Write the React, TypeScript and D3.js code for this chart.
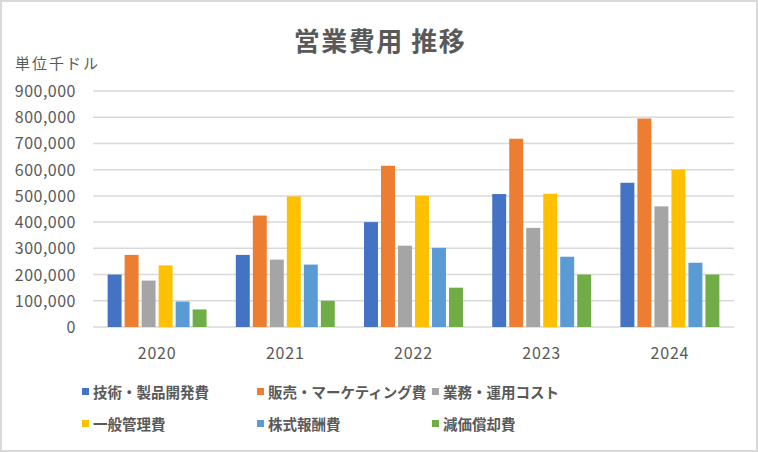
import React from "react";
import * as d3 from "d3";

const years = ["2020", "2021", "2022", "2023", "2024"];
const seriesNames = [
  "技術・製品開発費",
  "販売・マーケティング費",
  "業務・運用コスト",
  "一般管理費",
  "株式報酬費",
  "減価償却費",
];
const seriesColors = ["#4472C4", "#ED7D31", "#A5A5A5", "#FFC000", "#5B9BD5", "#70AD47"];
const techDev = [200000, 275000, 400000, 507000, 550000];
const salesMkt = [275000, 425000, 615000, 718000, 795000];
const operations = [177000, 257000, 310000, 378000, 460000];
const generalAdmin = [235000, 498000, 500000, 508000, 600000];
const stockComp = [97000, 238000, 302000, 268000, 245000];
const depreciation = [67000, 100000, 150000, 200000, 200000];
const seriesValues = [techDev, salesMkt, operations, generalAdmin, stockComp, depreciation];
const yTicks = [0, 100000, 200000, 300000, 400000, 500000, 600000, 700000, 800000, 900000];

const W = 758;
const H = 452;
const FONT = "'Noto Sans CJK JP', 'Noto Sans', sans-serif";
const TEXT = "#595959";

export default function App() {
  const x0 = d3.scaleBand<string>().domain(years).range([93, 734]).paddingInner(0).paddingOuter(0);
  const x1 = d3
    .scaleBand<string>()
    .domain(seriesNames)
    .range([0, x0.bandwidth()])
    .paddingInner(0.18)
    .paddingOuter(0.86);
  const y = d3.scaleLinear().domain([0, 900000]).range([327, 91]);
  const fmt = d3.format(",");

  const legendCols = [82, 257, 432];
  const legendRows = [392, 424];

  return (
    <svg
      width={W}
      height={H}
      style={{ position: "absolute", left: 0, top: 0, background: "#fff" }}
      fontFamily={FONT}
    >
      <rect x={1} y={1} width={W - 2} height={H - 2} fill="#fff" stroke="#d9d9d9" strokeWidth={2} />
      <text x={380} y={51} textAnchor="middle" fontSize={26} fontWeight={700} letterSpacing={1.5} fill={TEXT}>
        営業費用 推移
      </text>
      <text x={15} y={69} fontSize={15} fill={TEXT} letterSpacing={2}>
        単位千ドル
      </text>
      {yTicks.map((t) => (
        <g key={t}>
          <line x1={93} x2={734} y1={y(t)} y2={y(t)} stroke="#d9d9d9" strokeWidth={1.5} />
          <text x={76} y={y(t) + 6} textAnchor="end" fontSize={16} letterSpacing={0.5} fill={TEXT}>
            {fmt(t)}
          </text>
        </g>
      ))}
      {years.map((yr, i) => (
        <g key={yr} transform={`translate(${x0(yr)},0)`}>
          {seriesNames.map((s, j) => (
            <rect
              key={s}
              x={x1(s)}
              y={y(seriesValues[j][i])}
              width={x1.bandwidth()}
              height={y(0) - y(seriesValues[j][i])}
              fill={seriesColors[j]}
            />
          ))}
          <text x={x0.bandwidth() / 2} y={359} textAnchor="middle" fontSize={16} letterSpacing={0.8} fill={TEXT}>
            {yr}
          </text>
        </g>
      ))}
      {seriesNames.map((s, j) => {
        const cx = legendCols[j % 3];
        const cy = legendRows[Math.floor(j / 3)];
        return (
          <g key={s}>
            <rect x={cx} y={cy - 4} width={7} height={7} fill={seriesColors[j]} />
            <text x={cx + 11} y={cy + 5.5} fontSize={14.5} fontWeight={700} fill={TEXT}>
              {s}
            </text>
          </g>
        );
      })}
    </svg>
  );
}
